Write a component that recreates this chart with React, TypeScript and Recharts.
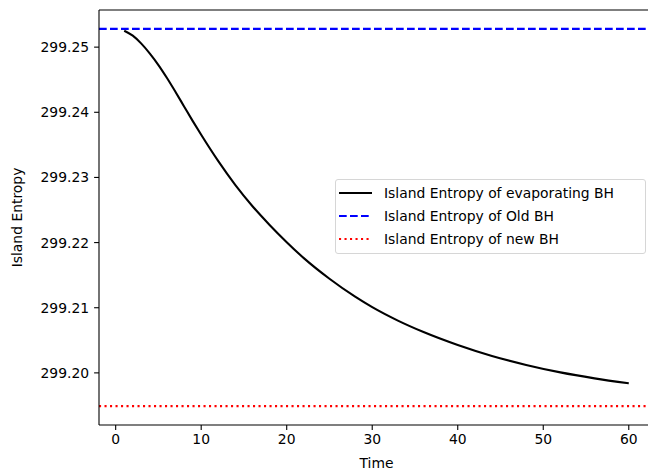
import React from "react";
import { LineChart, Line, XAxis, YAxis, ReferenceLine } from "recharts";

// time samples and island entropy of the evaporating black hole
const times = [1, 2, 3, 4, 5, 6, 7, 8, 9, 10, 12, 14, 16, 18, 20, 22, 25, 28, 30, 33, 36, 40, 44, 48, 52, 56, 60];
const evaporating = [
  299.252523, 299.251758, 299.250535, 299.249006, 299.247248, 299.24526, 299.243119, 299.240902, 299.238685,
  299.236544, 299.232492, 299.228822, 299.22558, 299.222706, 299.22006, 299.217614, 299.214448, 299.211696,
  299.21009, 299.208026, 299.206268, 299.20428, 299.202598, 299.201222, 299.200075, 299.199158, 299.198393,
];
const oldBH = 299.2528;
const newBH = 299.1949;

const xTicks = [0, 10, 20, 30, 40, 50, 60];
const yTicks = [299.2, 299.21, 299.22, 299.23, 299.24, 299.25];

const legendItems = [
  { label: "Island Entropy of evaporating BH", color: "#000000", dash: undefined },
  { label: "Island Entropy of Old BH", color: "#0000ff", dash: "7.7 3.3" },
  { label: "Island Entropy of new BH", color: "#ff0000", dash: "2.1 3.4" },
];

const data = times.map((t, i) => ({ t, s: evaporating[i] }));

const FONT = "'DejaVu Sans', sans-serif";
const FS = 13.9;

export default function App() {
  const tickStyle = { fill: "#000", fontSize: FS, fontFamily: FONT };
  return (
    <div style={{ position: "absolute", left: 0, top: 0, width: 648, height: 474, overflow: "hidden", background: "#fff" }}>
      <LineChart width={656} height={474} data={data} margin={{ top: 9, right: 2, bottom: 0, left: 0 }}>
        <XAxis
          dataKey="t"
          type="number"
          domain={[-1.95, 62.95]}
          ticks={xTicks}
          allowDataOverflow
          height={49}
          tickSize={4.9}
          tickMargin={4}
          tick={tickStyle}
          stroke="#000"
          strokeWidth={1.1}
          label={{
            content: (p: any) => {
              const vb = p.viewBox || {};
              return (
                <text x={vb.x + vb.width / 2} y={463} textAnchor="middle" dominantBaseline="central" fontFamily={FONT} fontSize={FS} fill="#000">
                  Time
                </text>
              );
            },
          }}
        />
        <XAxis xAxisId="top" orientation="top" type="number" domain={[-1.95, 62.95]} height={1} tick={false} tickLine={false} stroke="#000" strokeWidth={1.1} />
        <YAxis
          type="number"
          domain={[299.192, 299.2557]}
          ticks={yTicks}
          allowDataOverflow
          width={99}
          tickSize={4.9}
          tickMargin={5}
          tick={tickStyle}
          tickFormatter={(v: number) => v.toFixed(2)}
          stroke="#000"
          strokeWidth={1.1}
          label={{
            content: (p: any) => {
              const vb = p.viewBox || {};
              const cy = vb.y + vb.height / 2;
              return (
                <text x={17} y={cy} transform={`rotate(-90 17 ${cy})`} textAnchor="middle" dominantBaseline="central" fontFamily={FONT} fontSize={FS} fill="#000">
                  Island Entropy
                </text>
              );
            },
          }}
        />
        <ReferenceLine y={oldBH} stroke="#0000ff" strokeWidth={2.08} strokeDasharray="7.7 3.3" />
        <ReferenceLine y={newBH} stroke="#ff0000" strokeWidth={2.08} strokeDasharray="2.1 3.4" />
        <Line dataKey="s" type="monotone" stroke="#000" strokeWidth={2.08} dot={false} isAnimationActive={false} />
      </LineChart>
      <div
        style={{
          position: "absolute",
          left: 335,
          top: 179,
          width: 309,
          height: 73,
          border: "1px solid #d6d6d6",
          borderRadius: 3,
          background: "rgba(255,255,255,0.8)",
          fontFamily: FONT,
          fontSize: FS,
          color: "#000",
        }}
      >
        {legendItems.map((item, i) => (
          <div key={item.label} style={{ position: "absolute", left: 0, top: 1.7 + i * 23, height: 22, display: "flex", alignItems: "center", whiteSpace: "nowrap" }}>
            <svg width={48} height={22} style={{ display: "block" }}>
              <line x1={3} x2={36} y1={11} y2={11} stroke={item.color} strokeWidth={2.08} strokeDasharray={item.dash} />
            </svg>
            <span>{item.label}</span>
          </div>
        ))}
      </div>
    </div>
  );
}
